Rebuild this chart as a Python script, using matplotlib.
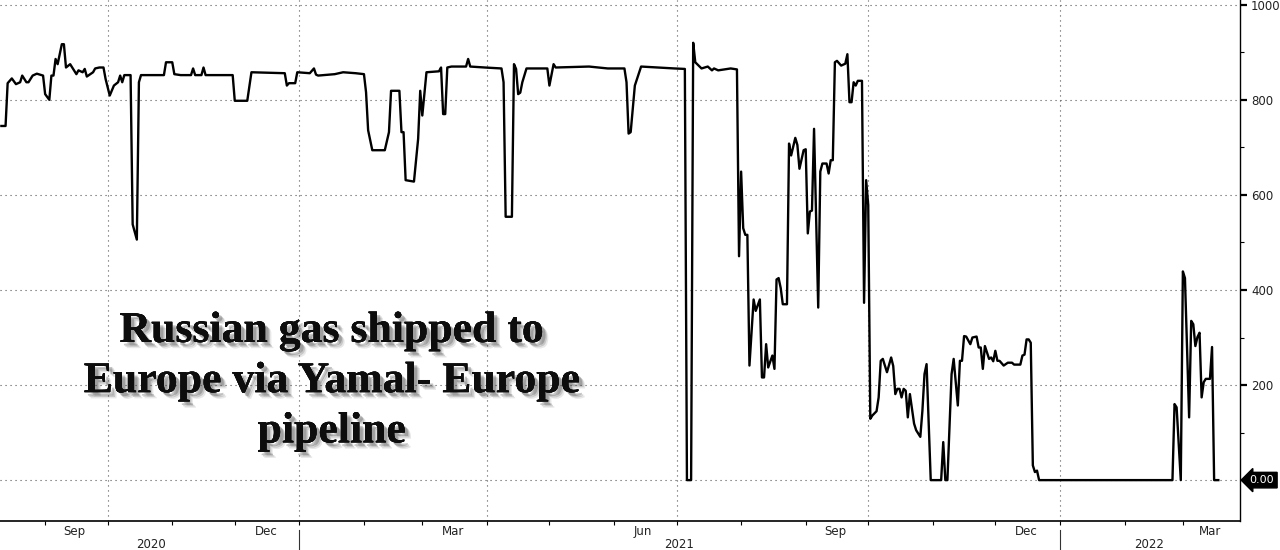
import matplotlib
matplotlib.use("Agg")
import matplotlib.pyplot as plt
import matplotlib.patheffects as pe
import matplotlib.transforms as mtransforms
import pandas as pd

# Daily flow through Yamal-Europe pipeline
dates_2020 = [
    "2020-08-11", "2020-08-13", "2020-08-14", "2020-08-16", "2020-08-18", "2020-08-20",
    "2020-08-21", "2020-08-23", "2020-08-24", "2020-08-26", "2020-08-28", "2020-08-31",
    "2020-09-01", "2020-09-03", "2020-09-04", "2020-09-05", "2020-09-06", "2020-09-07",
    "2020-09-09", "2020-09-10", "2020-09-11", "2020-09-13", "2020-09-14", "2020-09-16",
    "2020-09-17", "2020-09-19", "2020-09-20", "2020-09-21", "2020-09-24", "2020-09-25",
    "2020-09-27", "2020-09-29", "2020-09-30",
    "2020-10-02", "2020-10-04", "2020-10-06", "2020-10-07", "2020-10-08", "2020-10-09",
    "2020-10-12", "2020-10-13", "2020-10-15", "2020-10-16", "2020-10-17", "2020-10-28",
    "2020-10-29",
    "2020-11-01", "2020-11-02", "2020-11-05", "2020-11-10", "2020-11-11", "2020-11-12",
    "2020-11-15", "2020-11-16", "2020-11-17", "2020-11-30",
    "2020-12-01", "2020-12-07", "2020-12-09", "2020-12-25", "2020-12-26", "2020-12-27",
    "2020-12-30", "2020-12-31",
]
flow_2020 = [
    745, 745, 835, 845, 833, 837,
    851, 837, 837, 851, 855, 851,
    812, 800, 851, 851, 886, 875,
    917, 917, 868, 875, 868, 854,
    862, 858, 865, 849, 858, 866,
    868, 868, 844,
    809, 830, 837, 851, 837, 852,
    852, 538, 506, 837, 852, 852,
    879,
    879, 854, 852, 852, 866, 852,
    852, 868, 852, 852,
    798, 798, 858, 856, 830, 835,
    835, 858,
]

dates_2021 = [
    "2021-01-06", "2021-01-08", "2021-01-09", "2021-01-10", "2021-01-18", "2021-01-22",
    "2021-01-28",
    "2021-02-01", "2021-02-02", "2021-02-03", "2021-02-05", "2021-02-11", "2021-02-13",
    "2021-02-14", "2021-02-18", "2021-02-19", "2021-02-20", "2021-02-21", "2021-02-25",
    "2021-02-27", "2021-02-28",
    "2021-03-01", "2021-03-03", "2021-03-09", "2021-03-10", "2021-03-11", "2021-03-12",
    "2021-03-13", "2021-03-15", "2021-03-22", "2021-03-23", "2021-03-24", "2021-03-31",
    "2021-04-08", "2021-04-09", "2021-04-10", "2021-04-13", "2021-04-14", "2021-04-15",
    "2021-04-16", "2021-04-17", "2021-04-18", "2021-04-20", "2021-04-30",
    "2021-05-01", "2021-05-03", "2021-05-04", "2021-05-20", "2021-05-29",
    "2021-06-06", "2021-06-07", "2021-06-08", "2021-06-09", "2021-06-11", "2021-06-14",
    "2021-06-30",
    "2021-07-05", "2021-07-06", "2021-07-08", "2021-07-09", "2021-07-10", "2021-07-13",
    "2021-07-16", "2021-07-18", "2021-07-19", "2021-07-21", "2021-07-27", "2021-07-30",
    "2021-07-31",
    "2021-08-01", "2021-08-02", "2021-08-03", "2021-08-04", "2021-08-05", "2021-08-07",
    "2021-08-08", "2021-08-10", "2021-08-11", "2021-08-12", "2021-08-13", "2021-08-14",
    "2021-08-16", "2021-08-17", "2021-08-18", "2021-08-19", "2021-08-20", "2021-08-21",
    "2021-08-23", "2021-08-24", "2021-08-25", "2021-08-27", "2021-08-28", "2021-08-29",
    "2021-08-31",
    "2021-09-01", "2021-09-02", "2021-09-03", "2021-09-04", "2021-09-05", "2021-09-07",
    "2021-09-08", "2021-09-09", "2021-09-11", "2021-09-12", "2021-09-13", "2021-09-14",
    "2021-09-15", "2021-09-16", "2021-09-18", "2021-09-20", "2021-09-21", "2021-09-22",
    "2021-09-23", "2021-09-24", "2021-09-25", "2021-09-26", "2021-09-28", "2021-09-29",
    "2021-09-30",
    "2021-10-01", "2021-10-02", "2021-10-03", "2021-10-05", "2021-10-06", "2021-10-07",
    "2021-10-08", "2021-10-10", "2021-10-12", "2021-10-13", "2021-10-14", "2021-10-15",
    "2021-10-16", "2021-10-17", "2021-10-18", "2021-10-19", "2021-10-20", "2021-10-21",
    "2021-10-23", "2021-10-24", "2021-10-26", "2021-10-27", "2021-10-28", "2021-10-29",
    "2021-10-31",
    "2021-11-05", "2021-11-06", "2021-11-07", "2021-11-08", "2021-11-10", "2021-11-11",
    "2021-11-13", "2021-11-14", "2021-11-15", "2021-11-16", "2021-11-17", "2021-11-19",
    "2021-11-20", "2021-11-22", "2021-11-23", "2021-11-24", "2021-11-25", "2021-11-26",
    "2021-11-28", "2021-11-29", "2021-11-30",
    "2021-12-01", "2021-12-02", "2021-12-03", "2021-12-05", "2021-12-07", "2021-12-09",
    "2021-12-10", "2021-12-13", "2021-12-14", "2021-12-15", "2021-12-16", "2021-12-17",
    "2021-12-18", "2021-12-19", "2021-12-20", "2021-12-21", "2021-12-22",
]
flow_2021 = [
    856, 866, 853, 851, 854, 858,
    856,
    854, 816, 736, 694, 694, 732,
    819, 819, 732, 732, 631, 628,
    718, 819,
    767, 858, 860, 868, 770, 770,
    868, 870, 870, 886, 870, 868,
    866, 837, 554, 554, 875, 865,
    812, 815, 837, 866, 866,
    830, 875, 868, 870, 866,
    866, 837, 729, 732, 830, 870,
    866,
    865, 0, 0, 920, 879, 866,
    870, 862, 866, 862, 866, 864,
    471,
    649, 530, 516, 516, 241, 380,
    356, 380, 216, 216, 286, 237,
    262, 234, 422, 425, 404, 370,
    370, 708, 683, 720, 705, 655,
    694,
    696, 519, 565, 567, 739, 363,
    649, 666, 666, 645, 673, 673,
    879, 882, 872, 876, 896, 795,
    795, 837, 830, 840, 840, 373,
    631,
    579, 129, 136, 145, 174, 251,
    255, 227, 258, 240, 181, 192,
    192, 174, 192, 188, 132, 181,
    119, 105, 91, 146, 223, 244,
    0,
    0, 80, 0, 0, 223, 255,
    157, 251, 251, 303, 302, 286,
    300, 302, 279, 279, 234, 282,
    255, 258, 250,
    272, 251, 251, 241, 247, 247,
    243, 243, 262, 264, 296, 296,
    289, 31, 17, 20, 0,
]

dates_2022 = [
    "2022-02-24", "2022-02-25", "2022-02-26", "2022-02-28",
    "2022-03-01", "2022-03-02", "2022-03-04", "2022-03-05", "2022-03-06", "2022-03-07",
    "2022-03-08", "2022-03-09", "2022-03-10", "2022-03-11", "2022-03-12", "2022-03-14",
    "2022-03-15", "2022-03-16", "2022-03-18",
]
flow_2022 = [
    0, 160, 153, 0,
    439, 425, 132, 335, 328, 282,
    301, 310, 174, 206, 213, 213,
    280, 0, 0,
]

month_labels = ["Sep", "Dec", "Mar", "Jun", "Sep", "Dec", "Mar"]
month_label_dates = ["2020-09-15", "2020-12-16", "2021-03-16", "2021-06-15",
                     "2021-09-15", "2021-12-16", "2022-03-14"]
year_labels = ["2020", "2021", "2022"]
year_label_dates = ["2020-10-22", "2021-07-02", "2022-02-13"]
year_breaks = ["2021-01-01", "2022-01-01"]
quarter_starts = ["2020-10-01", "2021-01-01", "2021-04-01", "2021-07-01",
                  "2021-10-01", "2022-01-01"]
y_ticks = [0, 200, 400, 600, 800, 1000]

GRID = dict(color="#555555", linewidth=0.8, linestyle=(0, (1, 3.5)))
TEXT = "#222222"

dates = pd.to_datetime(dates_2020 + dates_2021 + dates_2022)
flow = flow_2020 + flow_2021 + flow_2022

fig = plt.figure(figsize=(12.8, 5.5), dpi=100)
ax = fig.add_axes([0, 29 / 550, 1240 / 1280, 521 / 550])

ax.plot(dates, flow, color="black", linewidth=1.7, zorder=3)

ax.set_xlim(pd.Timestamp("2020-08-10 08:00"), pd.Timestamp("2022-03-28 10:00"))
ax.set_ylim(-86, 1010)

# y axis on the right, Bloomberg style
ax.yaxis.tick_right()
ax.set_yticks(y_ticks)
ax.set_yticklabels([""] + [str(v) for v in y_ticks[1:]])
ax.set_yticks(range(100, 1000, 200), minor=True)
ax.tick_params(axis="y", which="major", direction="out", length=5, width=1.6,
               labelsize=8.5, labelcolor=TEXT, pad=3)
ax.tick_params(axis="y", which="minor", direction="out", length=3, width=0.8)
ax.grid(True, axis="y", which="major", **GRID)
for q in quarter_starts:
    ax.axvline(pd.Timestamp(q), zorder=1, **GRID)

# x axis: month ticks at month starts, labels mid-month
ax.set_xticks(pd.date_range("2020-09-01", "2022-03-01", freq="MS"), minor=True)
ax.set_xticks(pd.to_datetime(month_label_dates))
ax.set_xticklabels(month_labels)
ax.tick_params(axis="x", which="major", length=0, labelsize=8.5, labelcolor=TEXT, pad=3)
ax.tick_params(axis="x", which="minor", direction="out", length=3, width=0.8)

trans = mtransforms.blended_transform_factory(ax.transData, ax.transAxes)
for label, d in zip(year_labels, year_label_dates):
    ax.text(pd.Timestamp(d), -0.046, label, transform=trans, ha="center", va="center",
            fontsize=8.5, color=TEXT)
for d in year_breaks:
    ax.plot([pd.Timestamp(d)] * 2, [-0.018, -0.06], transform=trans, color="#333333",
            linewidth=0.8, clip_on=False)

for side in ("top", "left"):
    ax.spines[side].set_visible(False)
ax.spines["right"].set_linewidth(1.0)
ax.spines["bottom"].set_linewidth(1.2)

# last value tag
ax.annotate("0.00", xy=(1.0, 0), xycoords=("axes fraction", "data"),
            xytext=(7, 0), textcoords="offset points", ha="left", va="center",
            color="white", fontsize=8, annotation_clip=False,
            bbox=dict(boxstyle="larrow,pad=0.25", fc="black", ec="black"))

# soft drop shadow built from a few offset layers
shadow = [pe.withSimplePatchShadow(offset=(o, -o), shadow_rgbFace="#444444", alpha=a)
          for o, a in ((4.5, 0.12), (3.5, 0.2), (2.5, 0.3))]
fig.text(0.259, 0.307, "Russian gas shipped to\nEurope via Yamal- Europe\npipeline",
         ha="center", va="center", multialignment="center", fontsize=31.5,
         fontweight="bold", family="Liberation Serif", linespacing=1.33, color="#0d0d0d",
         path_effects=shadow + [pe.Normal()])

fig.savefig("out.png", dpi=100, facecolor="white")
